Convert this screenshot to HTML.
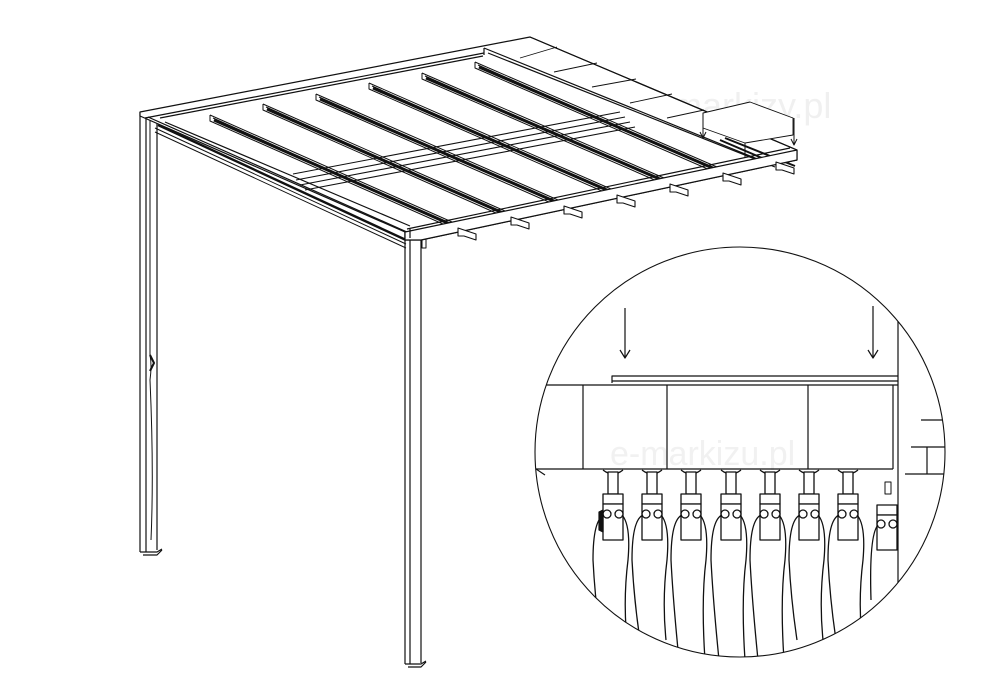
<!DOCTYPE html>
<html><head><meta charset="utf-8"><style>
html,body{margin:0;padding:0;background:#fff;}
svg{display:block;}
</style></head><body>
<svg width="1000" height="700" viewBox="0 0 1000 700" xmlns="http://www.w3.org/2000/svg" fill="none" stroke="#111" stroke-width="1.2" stroke-linejoin="round">
<defs><clipPath id="cc"><circle cx="740" cy="452" r="205"/></clipPath></defs>
<text x="640" y="118" font-family="Liberation Sans, sans-serif" font-size="36" fill="#f0f0f0" stroke="none">e-markizy.pl</text>

<!-- left post -->
<path d="M140 112 L140 552 M146 118 L146 552 M157 116 L157 550 M140 552 L157 552 L162 549 M143 555 L157 555 L162 550"/>
<path d="M150 120 L150 355 Q152 365 150 380 Q154 470 151 540" stroke-width="1"/>
<path d="M150 355 l4 8 l-4 8" stroke-width="2"/>
<!-- front post -->
<path d="M405 232 L405 664 M410 236 L410 664 M421 232 L421 663 M405 664 L421 664 L426 661 M408 667 L421 667 L426 662"/>
<rect x="422" y="238" width="4" height="10" stroke-width="1"/>

<!-- roof frame outer -->
<path d="M140 112 L530 37 L797 150 L797 160 L421 240 L405 240 L405 232 L140 116 Z" fill="#fff"/>
<path d="M145 118 L484 53 M160 118 L483 56"/>
<path d="M148 117 L407 232 M165 122 L410 226"/>
<path d="M155 128 L406 244 M155 132 L406 248" stroke-width="1"/>
<path d="M158 125 L406 240" stroke-width="2.4"/>

<!-- panel stack -->
<path d="M484 48 L760 160 M484 48 L484 55 M488 53 L775 167" />
<path d="M530 37 L797 150" />
<path d="M520 58 L557 47 M554 72 L597 63 M592 87 L636 79 M630 103 L672 94 M667 118 L704 110" stroke-width="0.9"/>
<path d="M703 113 L750 102 L793 118 L793 135 L745 143 L703 128 Z" fill="#fff" stroke-width="0.9"/>
<path d="M703 113 L703 138 M700 132 l3 6 l3 -6 M794 118 L794 145 M791 139 l3 6 l3 -6 M745 143 L745 158" stroke-width="1"/>
<path d="M720 140 L790 170 M725 138 L795 166" stroke-width="2"/>

<!-- cross bars -->
<path d="M293 174 L620 112 M296 180 L625 117 M300 185 L630 122 M305 190 L635 127" stroke-width="1.1"/>

<!-- slats -->
<g stroke-width="1">
<path d="M210 115 L210 121 L452 228 M210 115 L452 222 M213 118 L452 225"/>
<path d="M263 104 L263 110 L505 217 M263 104 L505 211 M266 107 L505 214"/>
<path d="M316 94 L316 100 L558 206 M316 94 L558 200 M319 97 L558 203"/>
<path d="M369 83 L369 89 L611 195 M369 83 L611 189 M372 86 L611 192"/>
<path d="M422 73 L422 79 L664 184 M422 73 L664 178 M425 76 L664 181"/>
<path d="M475 62 L475 68 L717 173 M475 62 L717 167 M478 65 L717 170"/>
</g>
<g stroke-width="3">
<path d="M214 120 L450 224"/><path d="M267 109 L503 213"/><path d="M320 99 L556 202"/>
<path d="M373 88 L609 191"/><path d="M426 78 L662 180"/><path d="M479 67 L715 169"/>
</g>
<!-- front beam drawn over slats -->
<path d="M405 232 L797 150 L797 160 L421 240 L405 240 Z" fill="#fff"/>
<path d="M410 228 L410 238 M407 229 L790 148"/>
<!-- hangers -->
<g stroke-width="1.1" fill="#fff">
<path d="M458 228 L476 234 L476 240 L464 236 L458 236 Z"/>
<path d="M511 217 L529 223 L529 229 L517 225 L511 225 Z"/>
<path d="M564 206 L582 212 L582 218 L570 214 L564 214 Z"/>
<path d="M617 195 L635 201 L635 207 L623 203 L617 203 Z"/>
<path d="M670 184 L688 190 L688 196 L676 192 L670 192 Z"/>
<path d="M723 173 L741 179 L741 185 L729 181 L723 181 Z"/>
<path d="M776 162 L794 168 L794 174 L782 170 L776 170 Z"/>
</g>

<!-- detail circle -->
<circle cx="740" cy="452" r="205" fill="#fff" stroke-width="1.1"/>
<g clip-path="url(#cc)">
<text x="610" y="465" font-family="Liberation Sans, sans-serif" font-size="34" fill="#f1f1f1" stroke="none">e-markizu.pl</text>
<path d="M625 308 L625 358 M620 350 l5 8 l5 -8 M873 306 L873 358 M868 350 l5 8 l5 -8"/>
<path d="M612 383 L612 376 L898 376 M612 381 L898 381 M530 385 L898 385 M530 469 L893 469"/>
<path d="M583 385 L583 469 M667 385 L667 469 M808 385 L808 469 M893 385 L893 469"/>
<path d="M898 240 L898 620"/>
<path d="M921 420 L950 420 M911 447 L950 447 M927 447 L927 474 M905 474 L950 474"/>
<path d="M530 465 L545 475"/>
<rect x="885" y="482" width="6" height="12" stroke-width="1"/>
<g stroke-width="1.3" fill="#fff">
<g transform="translate(613,0)">
<path d="M-10 470 Q0 478 10 470"/><rect x="-5" y="472" width="10" height="22"/><rect x="-10" y="494" width="20" height="10"/><rect x="-10" y="504" width="20" height="36"/>
<circle cx="-6" cy="514" r="4"/><circle cx="6" cy="514" r="4"/>
<path d="M-9 515 Q-20 520 -20 560 Q-18 600 -12 640 M9 515 Q18 525 15 560 Q10 600 14 640" fill="none"/>
</g>
<g transform="translate(652,0)">
<path d="M-10 470 Q0 478 10 470"/><rect x="-5" y="472" width="10" height="22"/><rect x="-10" y="494" width="20" height="10"/><rect x="-10" y="504" width="20" height="36"/>
<circle cx="-6" cy="514" r="4"/><circle cx="6" cy="514" r="4"/>
<path d="M-9 515 Q-20 520 -20 560 Q-18 600 -12 640 M9 515 Q18 525 15 560 Q10 600 14 640" fill="none"/>
</g>
<g transform="translate(691,0)">
<path d="M-10 470 Q0 478 10 470"/><rect x="-5" y="472" width="10" height="22"/><rect x="-10" y="494" width="20" height="10"/><rect x="-10" y="504" width="20" height="36"/>
<circle cx="-6" cy="514" r="4"/><circle cx="6" cy="514" r="4"/>
<path d="M-9 515 Q-20 520 -20 560 Q-18 600 -12 660 M9 515 Q18 525 15 560 Q10 600 14 660" fill="none"/>
</g>
<g transform="translate(731,0)">
<path d="M-10 470 Q0 478 10 470"/><rect x="-5" y="472" width="10" height="22"/><rect x="-10" y="494" width="20" height="10"/><rect x="-10" y="504" width="20" height="36"/>
<circle cx="-6" cy="514" r="4"/><circle cx="6" cy="514" r="4"/>
<path d="M-9 515 Q-20 520 -20 560 Q-18 600 -12 660 M9 515 Q18 525 15 560 Q10 600 14 660" fill="none"/>
</g>
<g transform="translate(770,0)">
<path d="M-10 470 Q0 478 10 470"/><rect x="-5" y="472" width="10" height="22"/><rect x="-10" y="494" width="20" height="10"/><rect x="-10" y="504" width="20" height="36"/>
<circle cx="-6" cy="514" r="4"/><circle cx="6" cy="514" r="4"/>
<path d="M-9 515 Q-20 520 -20 560 Q-18 600 -12 660 M9 515 Q18 525 15 560 Q10 600 14 660" fill="none"/>
</g>
<g transform="translate(809,0)">
<path d="M-10 470 Q0 478 10 470"/><rect x="-5" y="472" width="10" height="22"/><rect x="-10" y="494" width="20" height="10"/><rect x="-10" y="504" width="20" height="36"/>
<circle cx="-6" cy="514" r="4"/><circle cx="6" cy="514" r="4"/>
<path d="M-9 515 Q-20 520 -20 560 Q-18 600 -12 640 M9 515 Q18 525 15 560 Q10 600 14 640" fill="none"/>
</g>
<g transform="translate(848,0)">
<path d="M-10 470 Q0 478 10 470"/><rect x="-5" y="472" width="10" height="22"/><rect x="-10" y="494" width="20" height="10"/><rect x="-10" y="504" width="20" height="36"/>
<circle cx="-6" cy="514" r="4"/><circle cx="6" cy="514" r="4"/>
<path d="M-9 515 Q-20 520 -20 560 Q-18 600 -12 640 M9 515 Q18 525 15 560 Q10 600 14 640" fill="none"/>
</g>
<g transform="translate(887,0)">
<rect x="-10" y="505" width="20" height="10"/><rect x="-10" y="515" width="20" height="35"/>
<circle cx="-6" cy="524" r="4"/><circle cx="6" cy="524" r="4"/>
<path d="M-9 525 Q-18 535 -16 600" fill="none"/>
</g>
</g>
<path d="M603 510 L599 512 L599 530 L603 532 Z" fill="#111"/>
</g>
</svg>
</body></html>
